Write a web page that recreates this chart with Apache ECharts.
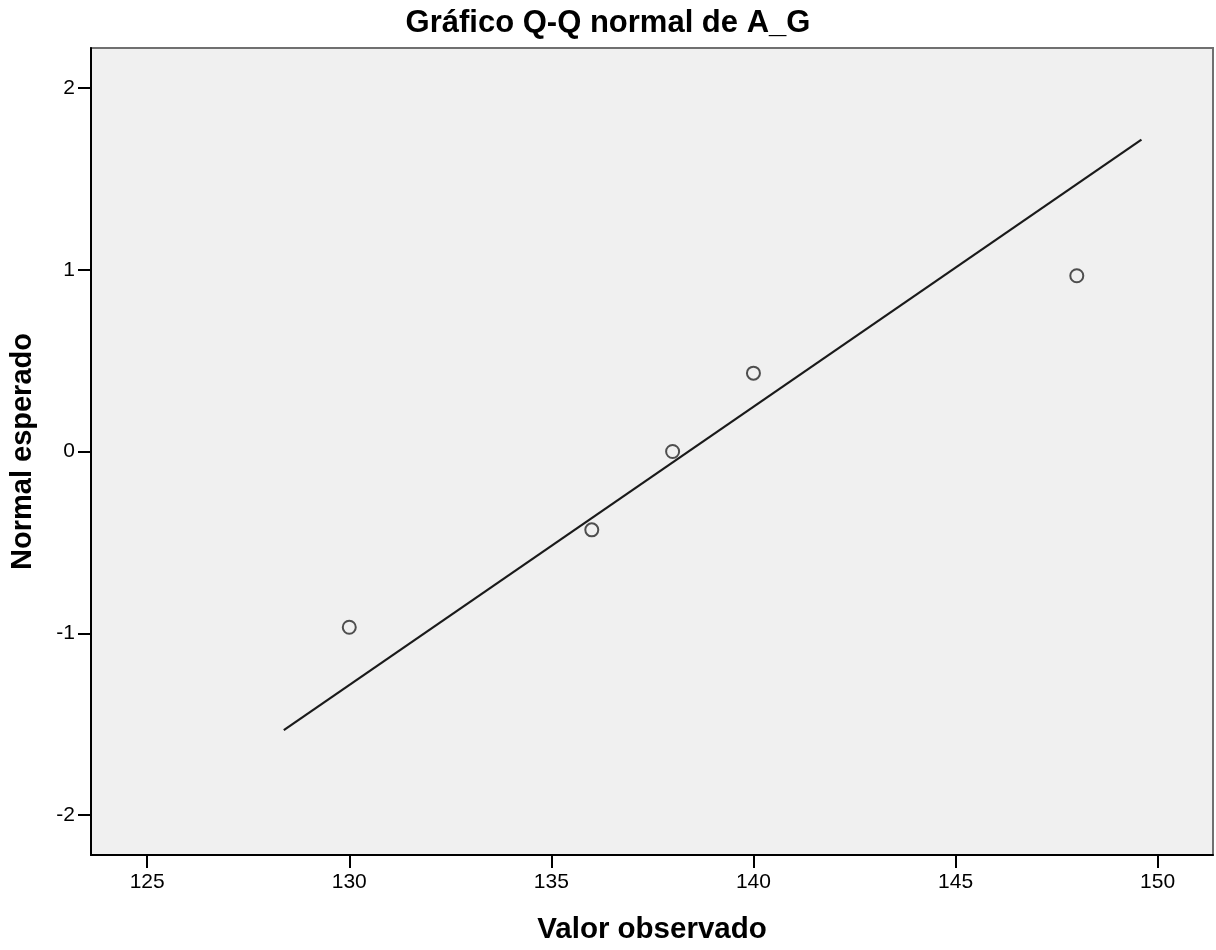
<!DOCTYPE html>
<html>
<head>
<meta charset="utf-8">
<title>Gráfico Q-Q normal de A_G</title>
<script src="https://cdn.jsdelivr.net/npm/echarts@6/dist/echarts.min.js"></script>
<style>
  html, body { margin: 0; padding: 0; background: #ffffff; }
  #chart { width: 1216px; height: 950px; }
</style>
</head>
<body>
<div id="chart"></div>
<script>
// Observed values of A_G and their expected normal scores
const observed = [130, 136, 138, 140, 148];
const expectedNormal = [-0.967, -0.431, 0, 0.431, 0.967];

// Reference line endpoints (observed value, expected normal)
const refLineX = [128.38, 149.60];
const refLineY = [-1.533, 1.716];

// Axis tick values
const xTicks = [125, 130, 135, 140, 145, 150];
const yTicks = [-2, -1, 0, 1, 2];

const FONT = "'Liberation Sans', Arial, sans-serif";

const chart = echarts.init(document.getElementById('chart'), null, { renderer: 'canvas' });

chart.setOption({
  animation: false,
  backgroundColor: '#ffffff',
  title: {
    text: 'Gráfico Q-Q normal de A_G',
    left: 'center',
    top: 3,
    textStyle: { fontFamily: FONT, fontSize: 31, fontWeight: 'bold', color: '#000000' }
  },
  grid: {
    left: 91, right: 3, top: 48, bottom: 92,
    show: true,
    backgroundColor: '#f0f0f0',
    borderColor: '#707070',
    borderWidth: 2
  },
  xAxis: {
    type: 'value',
    min: 123.61,
    max: 151.37,
    name: 'Valor observado',
    nameLocation: 'middle',
    nameGap: 60,
    nameTextStyle: { fontFamily: FONT, fontSize: 29.5, fontWeight: 'bold', color: '#000000' },
    axisLine: { show: true, onZero: false, lineStyle: { color: '#000000', width: 2 } },
    axisTick: { show: true, customValues: xTicks, length: 13, inside: false, lineStyle: { color: '#000000', width: 2 } },
    axisLabel: { customValues: xTicks, margin: 17, fontFamily: FONT, fontSize: 21, color: '#000000' },
    splitLine: { show: false }
  },
  yAxis: {
    type: 'value',
    min: -2.22,
    max: 2.22,
    name: 'Normal esperado',
    nameLocation: 'middle',
    nameGap: 54,
    nameRotate: 90,
    nameTextStyle: { fontFamily: FONT, fontSize: 29, fontWeight: 'bold', color: '#000000' },
    axisLine: { show: true, onZero: false, lineStyle: { color: '#000000', width: 2 } },
    axisTick: { show: true, customValues: yTicks, length: 13, inside: false, lineStyle: { color: '#000000', width: 2 } },
    axisLabel: { customValues: yTicks, margin: 16, fontFamily: FONT, fontSize: 21, color: '#000000' },
    splitLine: { show: false }
  },
  series: [
    {
      name: 'Línea de referencia',
      type: 'line',
      data: refLineX.map((x, i) => [x, refLineY[i]]),
      symbol: 'none',
      silent: true,
      lineStyle: { color: '#1a1a1a', width: 2.2 },
      z: 2
    },
    {
      name: 'A_G',
      type: 'scatter',
      data: observed.map((x, i) => [x, expectedNormal[i]]),
      symbol: 'circle',
      symbolSize: 13,
      itemStyle: { color: 'rgba(240,240,240,0)', borderColor: '#262626', borderWidth: 2 },
      z: 3
    }
  ]
});
</script>
</body>
</html>
